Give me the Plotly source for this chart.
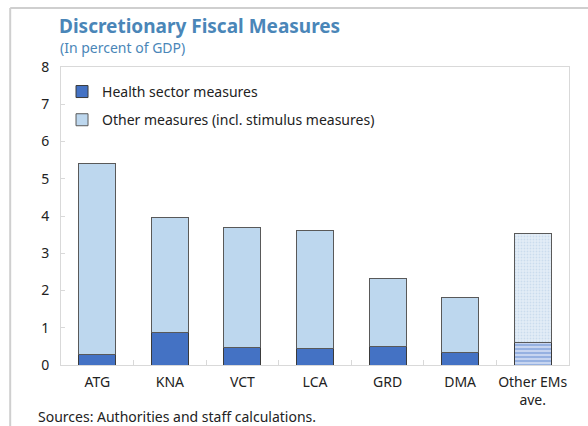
import plotly.graph_objects as go

categories = ["ATG", "KNA", "VCT", "LCA", "GRD", "DMA", "Other EMs<br>ave."]
health = [0.27, 0.86, 0.48, 0.45, 0.51, 0.33, 0.60]
total = [5.42, 3.95, 3.68, 3.62, 2.31, 1.80, 3.52]
other = [round(t - h, 2) for t, h in zip(total, health)]
y_ticks = [0, 1, 2, 3, 4, 5, 6, 7, 8]

FONT = "Noto Sans, Open Sans, sans-serif"
n = len(categories)
health_shapes = [""] * (n - 1) + ["-"]
other_shapes = [""] * (n - 1) + ["."]

fig = go.Figure()
fig.add_trace(go.Bar(
    x=categories, y=health, name="Health sector measures", legendgroup="a",
    marker=dict(color="#4472C4", line=dict(color="#3a3a3a", width=1),
                pattern=dict(shape=health_shapes,
                             fgcolor=["#4472C4"] * (n - 1) + ["#5b84cf"],
                             bgcolor=["#4472C4"] * (n - 1) + ["#c7d5f0"],
                             size=4, solidity=0.45)),
))
fig.add_trace(go.Bar(
    x=categories, y=other, name="Other measures (incl. stimulus measures)", legendgroup="b",
    marker=dict(color="#BDD7EE", line=dict(color="#595959", width=1),
                pattern=dict(shape=other_shapes,
                             fgcolor=["#BDD7EE"] * (n - 1) + ["#b3cbe3"],
                             bgcolor=["#BDD7EE"] * (n - 1) + ["#e3edf7"],
                             size=3, solidity=0.3)),
))

fig.update_layout(
    barmode="stack", bargap=0.49,
    width=588, height=426,
    margin=dict(l=61, r=19, t=67, b=61),
    paper_bgcolor="white", plot_bgcolor="white",
    font=dict(family=FONT, size=14, color="#222222"),
    showlegend=True,
    legend=dict(x=0.002, y=0.970, xanchor="left", yanchor="top",
                bgcolor="rgba(0,0,0,0)", traceorder="grouped",
                font=dict(size=14, color="#222222"), itemwidth=30,
                tracegroupgap=7),
    xaxis=dict(showline=True, linecolor="#d9d9d9", linewidth=1, mirror=True,
               ticks="inside", tickson="boundaries", ticklen=5, tickcolor="#d9d9d9",
               tickangle=0, automargin=False, ticklabelstandoff=4,
               tickfont=dict(size=14, color="#222222"), showgrid=False),
    yaxis=dict(range=[0, 8], tickvals=y_ticks, showline=True, linecolor="#d9d9d9",
               linewidth=1, mirror=True, ticks="inside", ticklen=4, tickcolor="#d9d9d9",
               automargin=False, ticklabelstandoff=8,
               showgrid=False, zeroline=False, tickfont=dict(size=14, color="#222222")),
    annotations=[
        dict(text="<b>Discretionary Fiscal Measures</b>", xref="paper", yref="paper",
             x=-0.008, y=1.138, xanchor="left", yanchor="middle", showarrow=False,
             font=dict(size=19, color="#4a86b8", family=FONT)),
        dict(text="(In percent of GDP)", xref="paper", yref="paper",
             x=-0.006, y=1.064, xanchor="left", yanchor="middle", showarrow=False,
             font=dict(size=14, color="#4a86b8", family=FONT)),
        dict(text="Sources: Authorities and staff calculations.", xref="paper", yref="paper",
             x=-0.049, y=-0.172, xanchor="left", yanchor="middle", showarrow=False,
             font=dict(size=14, color="#222222", family=FONT)),
    ],
    shapes=[
        dict(type="line", xref="paper", yref="paper", x0=-0.1, x1=1.1, y0=1.198, y1=1.198,
             line=dict(color="#cfcfcf", width=2)),
        dict(type="line", xref="paper", yref="paper", x0=-0.1, x1=-0.1, y0=1.198, y1=-0.3,
             line=dict(color="#cfcfcf", width=2)),
    ],
)

fig.write_html("out.html", config={"displayModeBar": False},
               post_script="document.body.style.margin='0';document.body.style.overflow='hidden';")
